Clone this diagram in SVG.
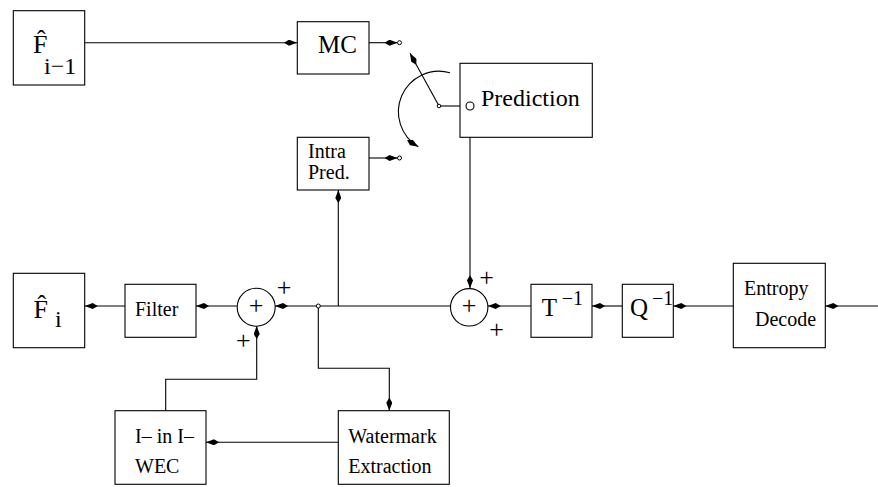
<svg xmlns="http://www.w3.org/2000/svg" width="878" height="487" viewBox="0 0 878 487">
<style>
.box{fill:#fff;stroke:#000;stroke-width:1.1}
.ln{fill:none;stroke:#000;stroke-width:1.1}
.ar{marker-end:url(#kite)}
text{font-family:"Liberation Serif","Times New Roman",serif;fill:#000}
.t20{font-size:20px}
.t24{font-size:24px}
.t25{font-size:25px}
.fh{font-size:26px}
.pl{font-size:26px;text-anchor:middle}
.dot{fill:#fff;stroke:#000;stroke-width:1}
</style>
<defs>
<marker id="kite" viewBox="0 0 13 6" refX="13" refY="3" markerWidth="13" markerHeight="6" markerUnits="userSpaceOnUse" orient="auto">
<path d="M13,3 L5,0 L0,3 L5,6 Z" fill="#000"/>
</marker>
</defs>
<rect width="878" height="487" fill="#fff"/>

<g id="connectors">
<line class="ln ar" x1="85" y1="42.7" x2="297" y2="42.7"/>
<line class="ln ar" x1="369" y1="42.7" x2="397.5" y2="42.7"/>
<line class="ln ar" x1="369" y1="158" x2="397.5" y2="158"/>
<line class="ln ar" x1="439" y1="106" x2="410" y2="53.3"/>
<path class="ln ar" d="M450,72.7 A40.6,40.6 0 0 0 418.3,146.7"/>
<line class="ln" x1="439" y1="106" x2="466" y2="106"/>
<line class="ln ar" x1="470" y1="106" x2="470" y2="288.3"/>
<line class="ln ar" x1="878" y1="306" x2="825.3" y2="306"/>
<line class="ln ar" x1="733.3" y1="306" x2="673.3" y2="306"/>
<line class="ln ar" x1="622.3" y1="306" x2="592" y2="306"/>
<line class="ln ar" x1="531" y1="306" x2="487.7" y2="306"/>
<line class="ln ar" x1="450.7" y1="306" x2="275" y2="306"/>
<line class="ln ar" x1="338.3" y1="306" x2="338.3" y2="190"/>
<polyline class="ln ar" points="318.3,306 318.3,368.3 389.3,368.3 389.3,410.7"/>
<line class="ln ar" x1="338.3" y1="442.3" x2="206" y2="442.3"/>
<polyline class="ln ar" points="165.7,410.7 165.7,379.3 256.7,379.3 256.7,326"/>
<line class="ln ar" x1="237.3" y1="306" x2="196" y2="306"/>
<line class="ln ar" x1="125" y1="306" x2="84.7" y2="306"/>
<circle class="dot" cx="399.5" cy="42.7" r="2"/>
<circle class="dot" cx="399.5" cy="158" r="2"/>
<circle class="dot" cx="439" cy="106" r="1.8"/>
<circle class="dot" cx="318.3" cy="306" r="2"/>
</g>

<g id="Fprev">
<rect class="box" x="13.3" y="10.7" width="71.4" height="74.3"/>
<text class="fh" x="33" y="53">F̂</text>
<text class="t24" x="44" y="74">i−1</text>
</g>

<g id="MC">
<rect class="box" x="297.3" y="21.7" width="71.7" height="52.3"/>
<text class="t25" x="318" y="53">MC</text>
</g>

<g id="Prediction">
<rect class="box" x="460" y="63.3" width="132.3" height="74"/>
<text class="t24" x="481" y="106">Prediction</text>
<circle cx="470" cy="106" r="4" fill="none" stroke="#000" stroke-width="1.1"/>
</g>

<g id="IntraPred">
<rect class="box" x="297.3" y="137.3" width="71.7" height="52.7"/>
<text class="t20" x="308" y="157.7">Intra</text>
<text class="t20" x="308" y="179">Pred.</text>
</g>

<g id="Fcur">
<rect class="box" x="13.3" y="273.3" width="71.4" height="74.4"/>
<text class="fh" x="33.5" y="318">F̂</text>
<text class="t24" x="55" y="326.7">i</text>
</g>

<g id="Filter">
<rect class="box" x="125" y="284.3" width="71" height="53"/>
<text class="t20" x="135" y="316">Filter</text>
</g>

<g id="Adder1">
<circle class="box" cx="256.2" cy="307.3" r="19"/>
<text class="pl" x="256.2" y="314">+</text>
<text class="pl" x="284" y="296">+</text>
<text class="pl" x="243.3" y="348.5">+</text>
</g>

<g id="Adder2">
<circle class="box" cx="469.2" cy="307.3" r="18.7"/>
<text class="pl" x="469.2" y="314">+</text>
<text class="pl" x="486.7" y="286">+</text>
<text class="pl" x="496.7" y="337.5">+</text>
</g>

<g id="Tinv">
<rect class="box" x="531" y="284.3" width="61" height="53"/>
<text class="t25" x="541.7" y="316">T</text>
<text class="t20" x="561.7" y="305">−1</text>
</g>

<g id="Qinv">
<rect class="box" x="622.3" y="284.3" width="51" height="53"/>
<text class="t25" x="630" y="316">Q</text>
<text class="t20" x="652" y="305">−1</text>
</g>

<g id="EntropyDecode">
<rect class="box" x="733.3" y="263.3" width="92" height="84.4"/>
<text class="t20" x="744" y="295">Entropy</text>
<text class="t20" x="755" y="326">Decode</text>
</g>

<g id="IinIWEC">
<rect class="box" x="115" y="410.7" width="91" height="73.6"/>
<text class="t20" x="135" y="443.3">I– in I–</text>
<text class="t20" x="135" y="473.3">WEC</text>
</g>

<g id="Watermark">
<rect class="box" x="338.3" y="410.7" width="111" height="73.6"/>
<text class="t20" x="348.3" y="443">Watermark</text>
<text class="t20" x="348.3" y="473">Extraction</text>
</g>
</svg>
